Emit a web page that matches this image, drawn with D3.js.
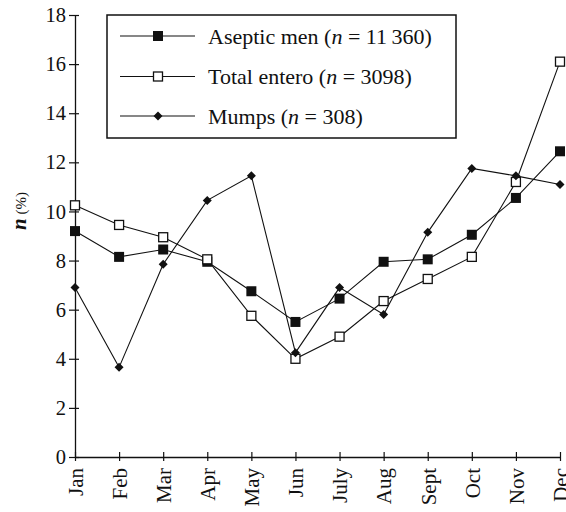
<!DOCTYPE html>
<html><head><meta charset="utf-8">
<script src="https://cdn.jsdelivr.net/npm/d3@7"></script>
<style>
html,body{margin:0;padding:0;background:#fff;}
text{font-family:"Liberation Serif","Times New Roman",serif;fill:#111;}
</style></head>
<body>
<svg id="c" width="566" height="512"></svg>
<script>
const months = ["Jan","Feb","Mar","Apr","May","Jun","July","Aug","Sept","Oct","Nov","Dec"];
const yTicks = [0,2,4,6,8,10,12,14,16,18];
const aseptic = [9.2, 8.15, 8.45, 7.95, 6.75, 5.5, 6.45, 7.95, 8.05, 9.05, 10.55, 12.45];
const entero  = [10.25, 9.45, 8.95, 8.05, 5.75, 4.0, 4.9, 6.35, 7.25, 8.15, 11.2, 16.1];
const mumps   = [6.9, 3.65, 7.85, 10.45, 11.45, 4.25, 6.9, 5.8, 9.15, 11.75, 11.45, 11.1];
const seriesNames = ["Aseptic men", "Total entero", "Mumps"];
const seriesN = ["11\u2009360", "3098", "308"];
const seriesMarkers = ["filledSquare", "openSquare", "diamond"];

const svg = d3.select("#c");
const x = d3.scalePoint().domain(months).range([75, 560]);
const y = d3.scaleLinear().domain([0, 18]).range([457, 15]);
const ink = "#111";

// axes
const yAxis = d3.axisLeft(y).tickValues(yTicks).tickSize(0).tickPadding(9).tickFormat(d3.format("d"));
const gy = svg.append("g").attr("transform", "translate(75,0)").call(yAxis);
gy.select(".domain").attr("stroke", ink).attr("stroke-width", 1.3);
gy.selectAll(".tick text").attr("font-size", 20.5).attr("fill", ink).style("font-family", '"Liberation Serif",serif');
gy.selectAll(".tick").append("line").attr("x1", -6).attr("x2", 4).attr("stroke", ink).attr("stroke-width", 1.2);

const xAxis = d3.axisBottom(x).tickSize(0).tickPadding(0);
const gx = svg.append("g").attr("transform", "translate(0,457)").call(xAxis);
gx.select(".domain").attr("stroke", ink).attr("stroke-width", 1.3);
gx.selectAll(".tick").append("line").attr("y1", -5).attr("y2", 4).attr("stroke", ink).attr("stroke-width", 1.2);
gx.selectAll(".tick text")
  .attr("font-size", 21).attr("fill", ink).style("font-family", '"Liberation Serif",serif')
  .attr("transform", "rotate(-90)")
  .attr("text-anchor", "end")
  .attr("x", -11).attr("y", 0).attr("dy", "0.35em");

// y title
const yt = svg.append("text").attr("transform", "translate(20,211) rotate(-90)").attr("text-anchor", "middle").attr("dy", "0.35em");
yt.append("tspan").text("n").attr("font-style", "italic").attr("font-weight", "bold").attr("font-size", 21);
yt.append("tspan").text(" (%)").attr("font-size", 15);

// lines
const data = [aseptic, entero, mumps];
const line = d3.line().x((d, i) => x(months[i])).y(d => y(d));
data.forEach(s => {
  svg.append("path").datum(s).attr("d", line).attr("fill", "none").attr("stroke", ink).attr("stroke-width", 1.1);
});

function marker(g, type, cx, cy) {
  if (type === "filledSquare") {
    g.append("rect").attr("x", cx - 5).attr("y", cy - 5).attr("width", 10).attr("height", 10).attr("fill", ink);
  } else if (type === "openSquare") {
    g.append("rect").attr("x", cx - 4.5).attr("y", cy - 4.5).attr("width", 9).attr("height", 9).attr("fill", "#fff").attr("stroke", ink).attr("stroke-width", 1.3);
  } else {
    const r = 4.5;
    g.append("path").attr("d", `M${cx},${cy - r}L${cx + r},${cy}L${cx},${cy + r}L${cx - r},${cy}Z`).attr("fill", ink);
  }
}
data.forEach((s, k) => {
  const g = svg.append("g");
  s.forEach((v, i) => marker(g, seriesMarkers[k], x(months[i]), y(v)));
});

// legend
const lg = svg.append("g");
lg.append("rect").attr("x", 107).attr("y", 15).attr("width", 349).attr("height", 123).attr("fill", "#fff").attr("stroke", ink).attr("stroke-width", 1.5);
const rowY = [36, 76.5, 116];
seriesNames.forEach((nm, k) => {
  lg.append("line").attr("x1", 120).attr("x2", 195).attr("y1", rowY[k]).attr("y2", rowY[k]).attr("stroke", ink).attr("stroke-width", 1.1);
  marker(lg, seriesMarkers[k], 158, rowY[k]);
  const t = lg.append("text").attr("x", 208).attr("y", rowY[k]).attr("dy", "0.35em").attr("font-size", 22);
  t.append("tspan").text(nm + " (");
  t.append("tspan").text("n").attr("font-style", "italic");
  t.append("tspan").text(" = " + seriesN[k] + ")");
});
</script>
</body></html>
